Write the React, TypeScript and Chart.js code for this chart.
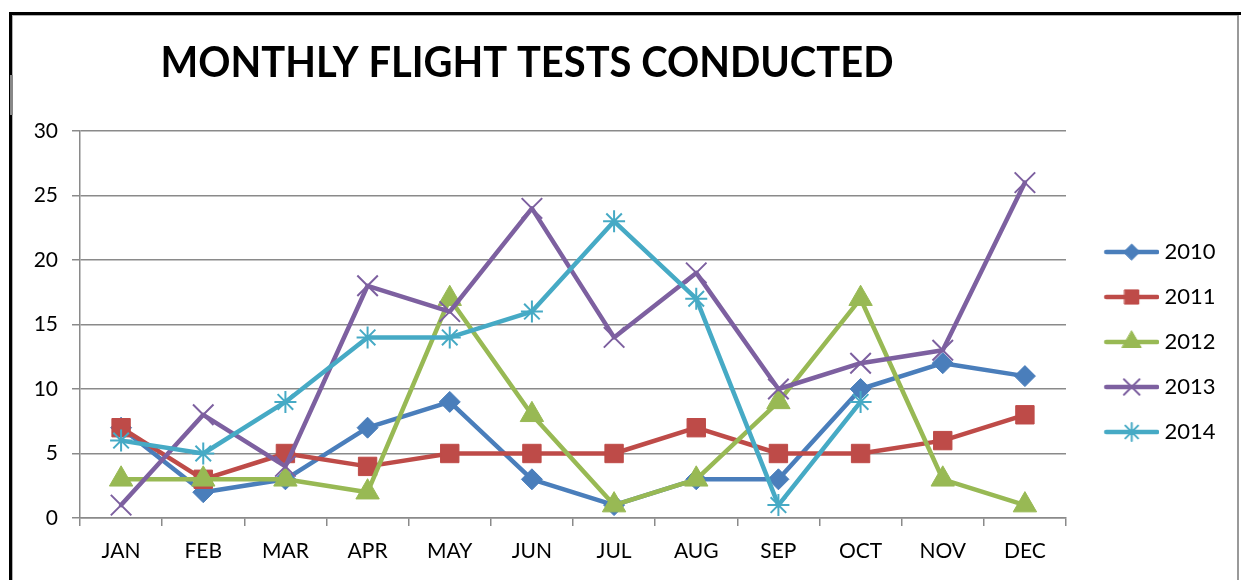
import React, { useEffect, useRef } from 'react';
import { Chart, registerables } from 'chart.js';
import { drawPoint } from 'chart.js/helpers';

Chart.register(...registerables);

const TITLE = 'MONTHLY FLIGHT TESTS CONDUCTED';
const MONTHS = ['JAN', 'FEB', 'MAR', 'APR', 'MAY', 'JUN', 'JUL', 'AUG', 'SEP', 'OCT', 'NOV', 'DEC'];
const SERIES_NAMES = ['2010', '2011', '2012', '2013', '2014'];
const V2010 = [7, 2, 3, 7, 9, 3, 1, 3, 3, 10, 12, 11];
const V2011 = [7, 3, 5, 4, 5, 5, 5, 7, 5, 5, 6, 8];
const V2012 = [3, 3, 3, 2, 17, 8, 1, 3, 9, 17, 3, 1];
const V2013 = [1, 8, 4, 18, 16, 24, 14, 19, 10, 12, 13, 26];
const V2014 = [6, 5, 9, 14, 14, 16, 23, 17, 1, 9, null, null];
const Y_TICKS = [0, 5, 10, 15, 20, 25, 30];

const COLORS = ['#4A7EBB', '#BE4B48', '#98B954', '#7D60A0', '#46AAC5'];
const STYLES = ['rectRot', 'rect', 'triangle', 'crossRot', 'star'];
const RADII = [10.5, 13, 13.5, 14.5, 11];
const MARKER_BW = [1, 1, 1, 2, 2];
const LEGEND_RADII = [8, 10, 11, 11, 9];

const SERIES = [V2010, V2011, V2012, V2013, V2014];

function makeLegendImage(i: number): HTMLCanvasElement {
  const c = document.createElement('canvas');
  c.width = 76;
  c.height = 30;
  const ctx = c.getContext('2d')!;
  ctx.strokeStyle = COLORS[i];
  ctx.fillStyle = COLORS[i];
  ctx.lineWidth = 4.5;
  ctx.lineCap = 'round';
  ctx.beginPath();
  ctx.moveTo(23, 15);
  ctx.lineTo(74, 15);
  ctx.stroke();
  ctx.lineWidth = MARKER_BW[i];
  drawPoint(ctx, { pointStyle: STYLES[i], rotation: 0, radius: LEGEND_RADII[i], borderWidth: MARKER_BW[i] } as any, 48.5, 15);
  return c;
}

const titlePlugin = {
  id: 'pageTitle',
  afterDraw(chart: any) {
    const ctx = chart.ctx;
    ctx.save();
    ctx.font = 'bold 42px Lato';
    ctx.fillStyle = '#000';
    ctx.textAlign = 'center';
    ctx.textBaseline = 'alphabetic';
    ctx.fillText(TITLE, 514, 61, 733);
    ctx.restore();
  },
};

export default function App() {
  const ref = useRef<HTMLCanvasElement>(null);

  useEffect(() => {
    if (!ref.current) return;
    Chart.defaults.font.family = 'Lato';
    const images = SERIES_NAMES.map((_, i) => makeLegendImage(i));
    const datasets = SERIES.map((data, i) => ({
      label: SERIES_NAMES[i],
      data,
      borderColor: COLORS[i],
      backgroundColor: COLORS[i],
      borderWidth: 4.5,
      borderJoinStyle: 'round',
      borderCapStyle: 'round',
      pointStyle: STYLES[i],
      pointRadius: RADII[i],
      pointBorderWidth: MARKER_BW[i],
      pointBackgroundColor: COLORS[i],
      pointBorderColor: COLORS[i],
      tension: 0,
      order: 5 - i,
    }));
    const chart = new Chart(ref.current, {
      type: 'line',
      data: { labels: MONTHS, datasets } as any,
      options: {
        responsive: false,
        animation: false,
        layout: { padding: { top: 115, bottom: 10, left: 0, right: 12 } },
        plugins: {
          title: { display: false },
          tooltip: { enabled: false },
          legend: {
            display: true,
            position: 'right',
            fullSize: false,
            maxWidth: 159,
            title: {
              display: true,
              text: ' ',
              color: '#000',
              font: { family: 'Lato', size: 10, lineHeight: 1.2 },
              padding: { top: 11.5, bottom: 11.5 },
            },
            labels: {
              usePointStyle: true,
              pointStyleWidth: 64.5,
              boxHeight: 22,
              padding: 23,
              color: '#000',
              font: { family: 'Lato', size: 22 },
              generateLabels: () =>
                SERIES_NAMES.map((name, i) => ({
                  text: name,
                  pointStyle: images[i],
                  fillStyle: COLORS[i],
                  strokeStyle: COLORS[i],
                  fontColor: '#000',
                  lineWidth: 0,
                  hidden: false,
                  datasetIndex: i,
                })),
            },
          },
        },
        scales: {
          x: {
            offset: true,
            grid: {
              display: true,
              offset: true,
              drawOnChartArea: false,
              drawTicks: true,
              tickLength: 8,
              color: '#8a8a8a',
              lineWidth: 1.5,
            },
            border: { color: '#8a8a8a', width: 1.5 },
            ticks: { color: '#000', font: { family: 'Lato', size: 21 }, padding: 13, maxRotation: 0 },
            afterFit: (s: any) => { s.height = 52; },
          },
          y: {
            min: 0,
            max: 30,
            grid: { color: '#8a8a8a', lineWidth: 1.5, tickLength: 8 },
            border: { color: '#8a8a8a', width: 1.5 },
            ticks: { color: '#000', font: { family: 'Lato', size: 21 }, padding: 14 },
            afterBuildTicks: (s: any) => { s.ticks = Y_TICKS.map((v) => ({ value: v })); },
            afterFit: (s: any) => { s.width = 67; },
          },
        },
      },
      plugins: [titlePlugin],
    } as any);
    return () => chart.destroy();
  }, []);

  return (
    <div style={{ position: 'fixed', left: 0, top: 0, width: 1241, height: 580, background: '#fff', overflow: 'hidden' }}>
      <div style={{ position: 'absolute', left: 9, top: 12, width: 1232, height: 3, background: '#000' }} />
      <div style={{ position: 'absolute', left: 9, top: 12, width: 3, height: 568, background: '#000' }} />
      <div style={{ position: 'absolute', left: 12, top: 15, width: 1, height: 565, background: '#b0b0b0' }} />
      <div style={{ position: 'absolute', left: 12, top: 15, width: 1225, height: 1, background: '#b0b0b0' }} />
      <div style={{ position: 'absolute', left: 1237, top: 15, width: 2, height: 565, background: '#999' }} />
      <div style={{ position: 'absolute', left: 10, top: 75, width: 3, height: 40, background: '#888' }} />
      <div style={{ position: 'absolute', left: 13, top: 16, width: 1224, height: 564 }}>
        <canvas ref={ref} width={1224} height={564} style={{ width: 1224, height: 564, display: 'block' }} />
      </div>
    </div>
  );
}
